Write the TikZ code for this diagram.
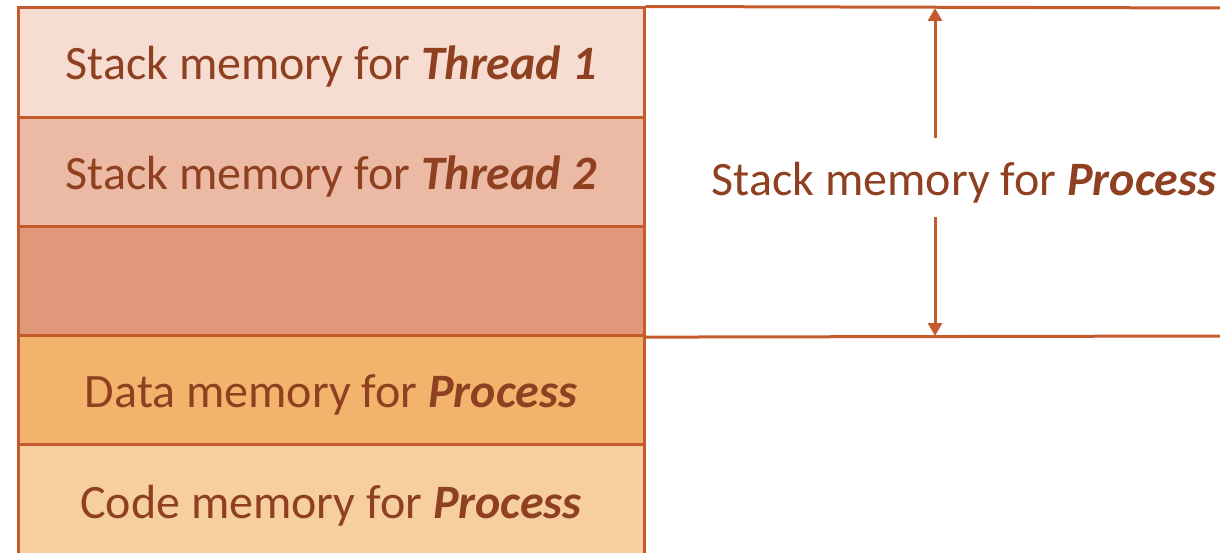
\documentclass[tikz,border=0pt]{standalone}
\usepackage{fontspec}
\setmainfont{Carlito}
\usetikzlibrary{arrows.meta}

\definecolor{rand}{HTML}{C55A2D}
\definecolor{schrift}{HTML}{8E4020}
\definecolor{stapelA}{HTML}{F6DCD1}
\definecolor{stapelB}{HTML}{EBB9A4}
\definecolor{stapelC}{HTML}{E0977A}
\definecolor{datenfarbe}{HTML}{F2B46C}
\definecolor{codefarbe}{HTML}{F7CF9F}

\tikzset{
    speicher/.style={
        draw=rand,
        line width=3pt,
        minimum width=626pt,
        minimum height=109.2pt,
        inner sep=0pt,
        text height=40pt,
        text depth=5.2pt,
        font=\fontsize{48}{56}\selectfont,
        text=schrift
    }
}

\newcommand{\hv}[1]{\textbf{\textit{#1}}}

\begin{document}
\begin{tikzpicture}[x=1pt,y=-1pt,>={Triangle[length=13pt,width=14pt]}]

    \clip (0,0) rectangle (1220,553);

    % Speicherblöcke
    \node[speicher, fill=stapelA] (t1) at (331,62.6)
        {Stack memory for \hv{Thread 1}};
    \node[speicher, fill=stapelB] (t2) at (331,171.8)
        {Stack memory for \hv{Thread 2}};
    \node[speicher, fill=stapelC] (frei) at (331,281) {};
    \node[speicher, fill=datenfarbe] (daten) at (331,390.2)
        {Data memory for \hv{Process}};
    \node[speicher, fill=codefarbe, minimum height=115pt, text depth=8.8pt]
        (code) at (331,502.4) {Code memory for \hv{Process}};

    % Klammer rechts
    \coordinate (oben) at (1225,8);
    \coordinate (unten) at (1225,336);
    \draw[rand, line width=3pt] (t1.north east) -- (oben);
    \draw[rand, line width=3pt] (frei.south east) -- (unten);

    % Beschriftung
    \node[
        font=\fontsize{48}{56}\selectfont,
        text=schrift,
        text height=40pt,
        text depth=3pt,
        inner xsep=0pt,
        inner ysep=18pt
    ] (stapel) at (964,177.5) {Stack memory for \hv{Process}};

    \coordinate (pfeiloben) at (935,8);
    \coordinate (pfeilunten) at (935,336);
    \draw[->, rand, line width=3pt] (pfeiloben |- stapel.north) -- (pfeiloben);
    \draw[->, rand, line width=3pt] (pfeilunten |- stapel.south) -- (pfeilunten);

\end{tikzpicture}
\end{document}
